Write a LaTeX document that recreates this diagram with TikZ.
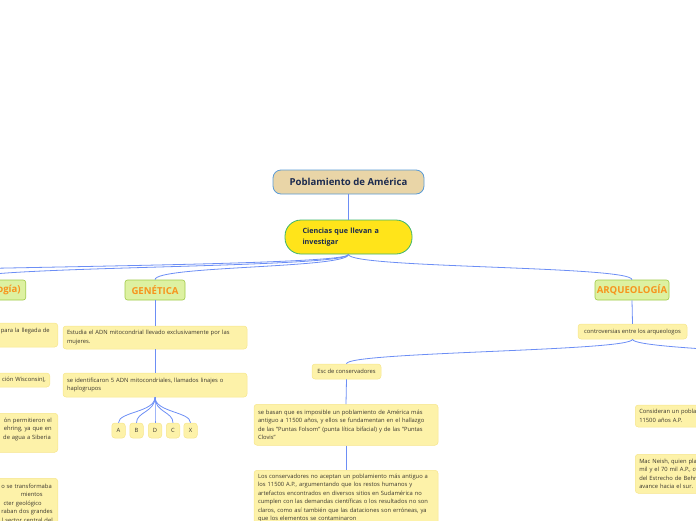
\documentclass[tikz,border=0pt]{standalone}
\usepackage{fontspec}
\setmainfont{Open Sans}
\definecolor{lineC}{RGB}{108,142,245}
\definecolor{noteF}{RGB}{253,242,169}
\definecolor{noteB}{RGB}{246,229,140}
\definecolor{noteT}{RGB}{58,54,46}
\definecolor{catF}{RGB}{221,241,161}
\definecolor{catB}{RGB}{160,202,72}
\definecolor{catT}{RGB}{247,148,29}
\definecolor{rootF}{RGB}{233,213,167}
\definecolor{rootB}{RGB}{91,155,213}
\definecolor{darkT}{RGB}{27,42,78}
\definecolor{sciF}{RGB}{255,228,26}
\definecolor{sciB}{RGB}{61,180,109}
\tikzset{
  rootbox/.style={draw=rootB, fill=rootF, rounded corners=8, line width=0.8, text=darkT,
    font=\bfseries\fontsize{9.6}{11}\selectfont, inner sep=0},
  scibox/.style={draw=sciB, fill=sciF, rounded corners=16, line width=0.8, text=darkT,
    font=\bfseries\fontsize{7.2}{11}\selectfont, inner sep=0, align=left},
  catbox/.style={draw=catB, fill=catF, rounded corners=2.5, line width=0.6, text=catT,
    font=\bfseries\fontsize{9.6}{11}\selectfont, inner sep=0, minimum height=20},
  note/.style={draw=noteB, fill=noteF, rounded corners=3, line width=0.5, text=noteT,
    font=\fontsize{5.8}{8.5}\selectfont, inner xsep=4, inner ysep=3.5},
  letter/.style={note, inner sep=0, minimum width=13.5, minimum height=15},
  conn/.style={draw=lineC, line width=0.8},
}
\begin{document}
\begin{tikzpicture}[x=1pt,y=-1pt]
\useasboundingbox (0,0) rectangle (696,520);
\clip (0,0) rectangle (696,520);

% main nodes
\node[rootbox, minimum width=151, minimum height=24] (root) at (348.5,182) {Poblamiento de América};
\node[scibox, minimum width=127, minimum height=34, text width=92] (sci) at (348.5,237) {Ciencias que llevan a\\investigar};

% categories
\node[catbox, anchor=east, text width=110, align=right, inner xsep=5] (left) at (26,290) {ogía)};
\node[catbox, minimum width=60] (gen) at (155,290) {GENÉTICA};
\node[catbox, minimum width=74] (arq) at (632,290) {ARQUEOLOGÍA};
\coordinate (far) at (-250,280);

% left column (cropped)
\node[note, anchor=east, text width=110, align=right, inner xsep=8, minimum height=24] (l1) at (58,335) {para la llegada de\\\phantom{x}};
\node[note, anchor=east, text width=100, align=right, minimum height=14] (l2) at (50,380) {ción Wisconsin),};
\node[note, anchor=north east, text width=110, align=right, inner xsep=6, minimum height=39] (l3) at (58,413) {ón permitieron el\\ehring, ya que en\\de agua a Siberia\mbox{\hspace{1pt}}\\\phantom{x}};
\node[note, anchor=north east, text width=110, align=right, inner xsep=5, minimum height=50] (l4) at (58,478) {o se transformaba\mbox{\hspace{1pt}}\\mientos\mbox{\hspace{10pt}}\\cter geológico\mbox{\hspace{11pt}}\\raban dos grandes\\l sector central del};

% genetica
\node[note, text width=176, align=left, minimum height=23] (est) at (155,337.5) {Estudia el ADN mitocondrial llevado exclusivamente por las\\mujeres.};
\node[note, text width=176, align=left, minimum height=24] (ide) at (155,385) {se identificaron 5 ADN mitocondriales, llamados linajes o\\haplogrupos};
\node[letter] (A) at (118.5,430.5) {A};
\node[letter] (B) at (136.5,430.5) {B};
\node[letter] (D) at (155,430.5) {D};
\node[letter] (C) at (173,430.5) {C};
\node[letter] (X) at (190.5,430.5) {X};

% arqueologia
\node[note, minimum width=109, minimum height=15, inner sep=0] (con) at (632.5,331.5) {controversias entre los arqueologos};
\coordinate (farR) at (900,366);
\node[note, minimum width=69, minimum height=15, inner sep=0] (esc) at (346.5,371.5) {Esc de conservadores};
\node[note, anchor=north, text width=176, align=left, minimum height=41] (bas) at (346,404) {se basan que es imposible un poblamiento de América más\\antiguo a 11500 años, y ellos se fundamentan en el hallazgo\\de las "Puntas Folsom" (punta lítica bifacial) y de las "Puntas\\Clovis"};
\node[note, anchor=north, text width=176, align=left] (cons) at (346,470) {Los conservadores no aceptan un poblamiento más antiguo a\\los 11500 A.P., argumentando que los restos humanos y\\artefactos encontrados en diversos sitios en Sudamérica no\\cumplen con las demandas científicas o los resultados no son\\claros, como así también que las dataciones son erróneas, ya\\que los elementos se contaminaron};
\node[note, anchor=west, text width=110, align=left, minimum height=22] (r1) at (635,416) {Consideran un pobla\\11500 años A.P.};
\node[note, anchor=north west, text width=110, align=left, minimum height=39] (r2) at (635,454) {Mac Neish, quien pla\\mil y el 70 mil A.P., cu\\del Estrecho de Behr\\avance hacia el sur.};

% connectors
\draw[conn] (root.south) -- (sci.north);
\draw[conn] (sci.south) .. controls +(0,14) and +(0,-14) .. (gen.north);
\draw[conn] (sci.south) .. controls +(0,14) and +(0,-14) .. (arq.north);
\draw[conn] (sci.south) .. controls +(0,14) and +(0,-14) .. ([xshift=-60pt]left.north east);
\draw[conn] (sci.south) .. controls +(0,14) and +(0,-14) .. (far);
\draw[conn] (gen.south) -- (est.north);
\draw[conn] (est.south) -- (ide.north);
\foreach \n in {A,B,D,C,X}
  \draw[conn] (ide.south) .. controls +(0,15) and +(0,-11) .. (\n.north);
\draw[conn] (arq.south) -- (con.north);
\draw[conn] (con.south) .. controls +(0,12) and +(0,-12) .. (esc.north);
\draw[conn] (con.south) .. controls +(0,12) and +(0,-12) .. (farR);
\draw[conn] (esc.south) -- (bas.north);
\draw[conn] (bas.south) -- (cons.north);
\end{tikzpicture}
\end{document}
